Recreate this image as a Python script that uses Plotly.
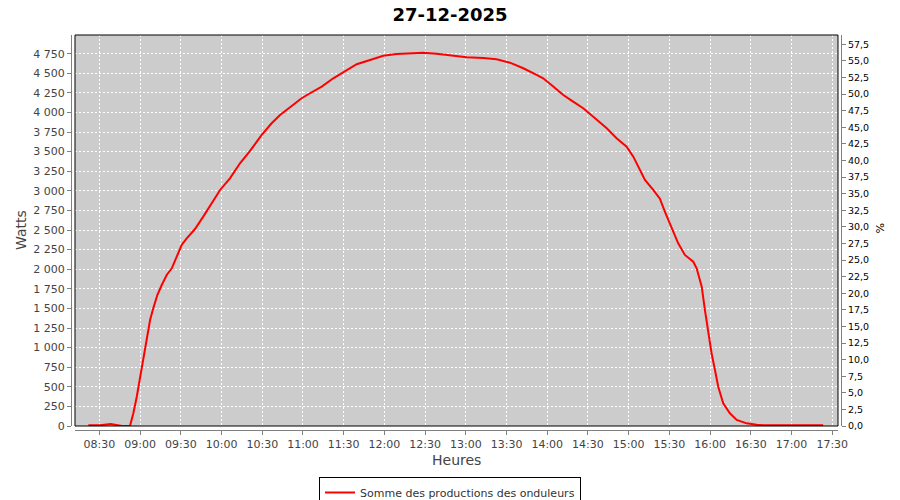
import plotly.graph_objects as go

DATE = "2025-12-27"
times = ["08:21:50", "08:30:25", "08:38:20", "08:43:10", "08:46:40", "08:52:30",
         "08:55:00", "08:57:30", "09:00:00", "09:02:20", "09:04:50", "09:07:20",
         "09:09:40", "09:12:40", "09:15:55", "09:19:35", "09:23:20", "09:27:00",
         "09:30:35", "09:34:20", "09:40:25", "09:46:30", "09:52:40", "09:58:55",
         "10:06:10", "10:13:35", "10:21:00", "10:29:35", "10:36:55", "10:43:05",
         "10:51:40", "10:59:00", "11:05:10", "11:13:50", "11:22:20", "11:29:40",
         "11:39:35", "11:49:25", "11:59:10", "12:09:00", "12:18:50", "12:28:35",
         "12:38:30", "12:48:20", "13:00:35", "13:12:50", "13:22:40", "13:32:30",
         "13:42:20", "13:52:10", "13:57:00", "14:04:25", "14:11:50", "14:19:05",
         "14:26:30", "14:33:55", "14:43:50", "14:51:05", "14:58:30", "15:03:25",
         "15:08:20", "15:12:00", "15:18:05", "15:23:00", "15:26:40", "15:31:40",
         "15:36:30", "15:41:25", "15:47:35", "15:50:05", "15:53:50", "15:56:10",
         "15:58:35", "16:01:05", "16:03:35", "16:06:00", "16:09:40", "16:14:35",
         "16:19:35", "16:26:55", "16:34:20", "16:39:05", "17:23:20"]
watts = [10, 10, 25, 5, 0, 0,
         162, 374, 629, 884, 1139, 1352,
         1501, 1671, 1799, 1927, 2012, 2160,
         2309, 2394, 2513, 2671, 2841, 3011,
         3160, 3352, 3510, 3713, 3862, 3968,
         4083, 4181, 4245, 4330, 4436, 4508,
         4615, 4670, 4724, 4746, 4755, 4763,
         4750, 4729, 4704, 4695, 4678, 4635,
         4564, 4478, 4436, 4330, 4223, 4138,
         4053, 3946, 3798, 3670, 3564, 3436,
         3266, 3139, 3011, 2900, 2734, 2522,
         2331, 2182, 2096, 2012, 1778, 1480,
         1183, 928, 714, 501, 290, 162,
         77, 34, 17, 9, 9]

series_name = "Somme des productions des onduleurs"
title_text = "27-12-2025"
x_range = [DATE + " 08:12:00", DATE + " 17:34:15"]
y_range = [0, 4988]
y2_range = [0, 58.9]

x = [DATE + " " + t for t in times]

fig = go.Figure()
fig.add_trace(go.Scatter(x=x, y=watts, mode="lines", name=series_name,
                         line=dict(color="#ff0000", width=2)))
fig.add_trace(go.Scatter(x=[x[0]], y=[0], yaxis="y2", mode="lines",
                         showlegend=False, hoverinfo="skip",
                         line=dict(color="rgba(0,0,0,0)")))

tick_font = dict(family="DejaVu Sans", size=11, color="#444444")
fig.update_layout(
    width=900, height=500,
    paper_bgcolor="white", plot_bgcolor="#cccccc",
    margin=dict(l=71, r=59, t=35, b=70),
    separators=", ",
    title=dict(text="<b>" + title_text + "</b>", x=0.5, xref="container",
               y=0.97, yref="container", yanchor="middle", xanchor="center",
               font=dict(family="DejaVu Sans", size=18, color="black")),
    xaxis=dict(type="date", range=x_range, domain=[0.0052, 0.9961],
               anchor="free", position=0, automargin=False,
               tick0=DATE + " 08:30:00", dtick=1800000, tickformat="%H:%M",
               ticks="outside", ticklen=4, tickcolor="#808080",
               showline=True, linecolor="#808080", linewidth=1,
               showgrid=True, gridcolor="white", griddash="2px,2px", gridwidth=1,
               tickfont=tick_font, zeroline=False),
    yaxis=dict(range=y_range, domain=[0.0101, 1], anchor="free", position=0,
               automargin=False,
               tick0=0, dtick=250, tickformat=",d",
               ticks="outside", ticklen=4, tickcolor="#808080",
               showline=True, linecolor="#808080", linewidth=1,
               showgrid=True, gridcolor="white", griddash="2px,2px", gridwidth=1,
               tickfont=tick_font, zeroline=False),
    yaxis2=dict(range=y2_range, overlaying="y", side="right", anchor="free",
                position=1, automargin=False, tick0=0, dtick=2.5, tickformat=".1f",
                ticks="outside", ticklen=4, tickcolor="#808080",
                showline=True, linecolor="#808080", linewidth=1,
                showgrid=False, zeroline=False,
                tickfont=dict(family="DejaVu Sans", size=9.5, color="black")),
    showlegend=True,
    legend=dict(orientation="h", xref="container", yref="container",
                x=0.5, xanchor="center", y=0.046, yanchor="top",
                bordercolor="black", borderwidth=1, bgcolor="white",
                itemwidth=30, tracegroupgap=0,
                font=dict(family="DejaVu Sans", size=11, color="#333333")),
    shapes=[dict(type="rect", xref="x domain", yref="y domain",
                 x0=0, x1=1, y0=0, y1=1, line=dict(color="black", width=1),
                 fillcolor="rgba(0,0,0,0)", layer="above")],
    annotations=[
        dict(text="Watts", xref="paper", yref="paper", x=(21 - 71) / 770,
             y=(430 - 230) / 395, showarrow=False, textangle=-90,
             xanchor="center", yanchor="middle",
             font=dict(family="DejaVu Sans", size=14, color="#444444")),
        dict(text="Heures", xref="paper", yref="paper", x=(456 - 71) / 770,
             y=(430 - 460) / 395, showarrow=False,
             xanchor="center", yanchor="middle",
             font=dict(family="DejaVu Sans", size=14, color="#444444")),
        dict(text="%", xref="paper", yref="paper", x=(880 - 71) / 770,
             y=(430 - 228) / 395, showarrow=False, textangle=90,
             xanchor="center", yanchor="middle",
             font=dict(family="DejaVu Sans", size=11, color="black")),
    ],
)

fig.write_html("out.html",
               config={"displayModeBar": False},
               post_script="document.body.style.margin='0';"
                           "document.body.style.padding='0';"
                           "document.body.style.overflow='hidden';")
